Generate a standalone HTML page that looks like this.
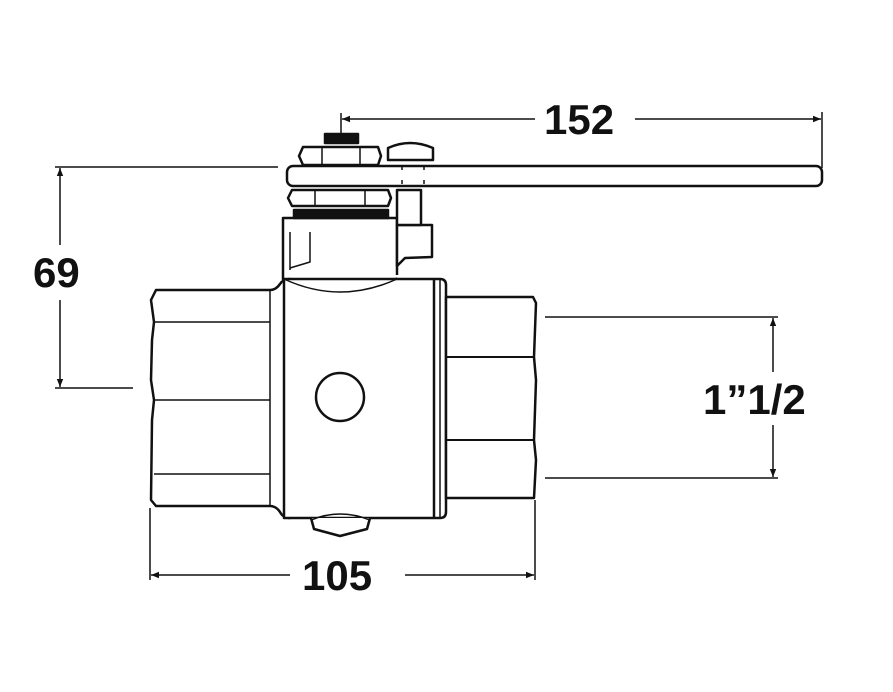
<!DOCTYPE html>
<html><head><style>body{margin:0;background:#fff}svg{display:block}text{font-family:"Liberation Sans",sans-serif;font-size:42px;font-weight:bold;fill:#111}</style></head>
<body>
<svg width="893" height="692" viewBox="0 0 893 692" xmlns="http://www.w3.org/2000/svg">
<defs>
<marker id="a" viewBox="0 0 10 10" refX="10" refY="5" markerWidth="12" markerHeight="8" orient="auto-start-reverse" markerUnits="userSpaceOnUse"><path d="M0,1 L10,5 L0,9 Z" fill="#111"/></marker>
</defs>
<g stroke="#111" stroke-width="1.5" fill="none">
<line x1="341" y1="113" x2="341" y2="133"/>
<line x1="822" y1="112" x2="822" y2="168"/>
<line x1="342" y1="119" x2="535" y2="119" marker-start="url(#a)"/>
<line x1="635" y1="119" x2="821" y2="119" marker-end="url(#a)"/>
<line x1="55" y1="167" x2="278" y2="167"/>
<line x1="55" y1="388" x2="133" y2="388"/>
<line x1="60" y1="168" x2="60" y2="245" marker-start="url(#a)"/>
<line x1="60" y1="300" x2="60" y2="387" marker-end="url(#a)"/>
<line x1="150" y1="508" x2="150" y2="580"/>
<line x1="535" y1="500" x2="535" y2="580"/>
<line x1="151" y1="575" x2="290" y2="575" marker-start="url(#a)"/>
<line x1="405" y1="575" x2="534" y2="575" marker-end="url(#a)"/>
<line x1="545" y1="317" x2="778" y2="317"/>
<line x1="545" y1="478" x2="778" y2="478"/>
<line x1="773" y1="318" x2="773" y2="372" marker-start="url(#a)"/>
<line x1="773" y1="425" x2="773" y2="477" marker-end="url(#a)"/>
</g>
<text x="544" y="134">152</text>
<text x="33" y="287">69</text>
<text x="302" y="590">105</text>
<text x="703" y="414">1”1/2</text>

<g stroke="#111" stroke-width="2.5" fill="#fff" stroke-linejoin="round">
<path d="M283,280 L283,218 L397,218 L397,275"/>
<path d="M290,232 L290,270 M310,232 L310,262 L290,268" stroke-width="1.5"/>
<path d="M283,278 Q340,305 397,278" stroke-width="1.5" fill="none"/>
<path d="M397,225 L432,225 L432,257 L405,258 L397,266 Z"/>
<rect x="294" y="210" width="94" height="8" fill="#111"/>
<path d="M292,190 L388,190 L391,198 L388,206 L292,206 L288,198 Z"/>
<line x1="315" y1="191" x2="315" y2="205" stroke-width="1.5"/>
<line x1="365" y1="191" x2="365" y2="205" stroke-width="1.5"/>
<rect x="397" y="190" width="24" height="35"/>
<rect x="287" y="166" width="535" height="20" rx="6"/>
<line x1="402" y1="166" x2="402" y2="186" stroke-width="1.5" stroke-dasharray="4 10"/>
<line x1="424" y1="166" x2="424" y2="186" stroke-width="1.5" stroke-dasharray="4 10"/>
<path d="M303,147 L378,147 L381,156 L378,165 L303,165 L299,156 Z"/>
<line x1="322" y1="148" x2="322" y2="164" stroke-width="1.5"/>
<line x1="360" y1="148" x2="360" y2="164" stroke-width="1.5"/>
<rect x="325" y="134" width="33" height="9" fill="#111"/>
<path d="M388,160 L388,148 Q410,138 433,148 L433,160 Z"/>
<path d="M156,290 L270,290 Q276,290 280,284 Q283,279 290,279 L290,518 Q283,518 280,512 Q276,506 270,506 L156,506 L151,500 L152,420 L154,400 L151,380 L152,340 L154,322 L151,300 Z"/>
<line x1="154" y1="322" x2="270" y2="322" stroke-width="1.5"/>
<line x1="154" y1="400" x2="270" y2="400" stroke-width="1.5"/>
<line x1="154" y1="474" x2="270" y2="474" stroke-width="1.5"/>
<line x1="270" y1="290" x2="270" y2="506" stroke-width="1.5"/>
<path d="M284,279 L440,279 Q446,279 446,285 L446,512 Q446,518 440,518 L284,518 Z"/>
<path d="M284,279 Q340,305 397,279" stroke-width="1.5" fill="none"/>
<line x1="434" y1="280" x2="434" y2="517"/>
<line x1="440" y1="280" x2="440" y2="517" stroke-width="1.5"/>
<path d="M311,518 L314,529 L340,536 L367,529 L370,518"/>
<path d="M311,520 Q340,508 370,520" stroke-width="1.5" fill="none"/>
<path d="M446,297 L533,297 L536,303 L534,357 L536,380 L534,440 L536,460 L534,498 L446,498 Z"/>
<line x1="446" y1="357" x2="533" y2="357" stroke-width="2"/>
<line x1="446" y1="440" x2="533" y2="440" stroke-width="2"/>
<circle cx="340" cy="397" r="24"/>
</g>
</svg>
</body></html>
